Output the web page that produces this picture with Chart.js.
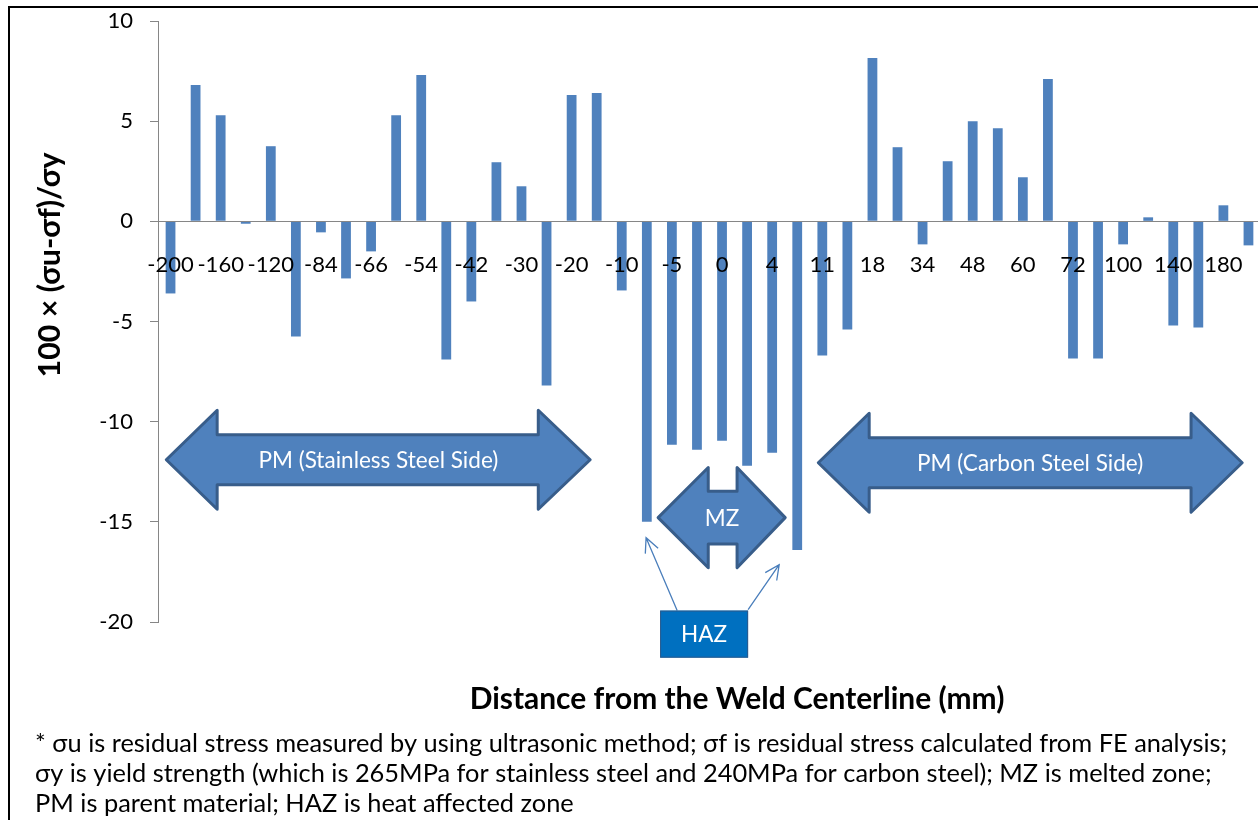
<!DOCTYPE html>
<html><head><meta charset="utf-8">
<script src="https://cdn.jsdelivr.net/npm/chart.js@4.4.1/dist/chart.umd.min.js"></script>
<style>
html,body{margin:0;padding:0;background:#fff;overflow:hidden;}
#wrap{position:relative;width:1258px;height:820px;overflow:hidden;background:#fff;}
canvas{display:block;}
</style></head><body>
<div id="wrap"><canvas id="c" width="1262" height="820"></canvas></div>
<script>
// Distance from the weld centerline (mm); every other label is shown on the axis
const categories = ['-200','-180','-160','-140','-120','-100','-84','-78','-66','-60',
  '-54','-48','-42','-36','-30','-25','-20','-15','-10','-7',
  '-5','-2','0','2','4','7','11','14','18','26',
  '34','42','48','54','60','66','72','84','100','120',
  '140','160','180','200'];
// 100 x (σu-σf)/σy
const stressRatio = [-3.6, 6.8, 5.3, -0.12, 3.75, -5.75, -0.55, -2.85, -1.5, 5.3,
  7.3, -6.9, -4.0, 2.95, 1.75, -8.2, 6.3, 6.4, -3.45, -15.0,
  -11.15, -11.4, -10.95, -12.2, -11.55, -16.4, -6.7, -5.4, 8.15, 3.7,
  -1.15, 3.0, 5.0, 4.65, 2.2, 7.1, -6.85, -6.85, -1.15, 0.2,
  -5.2, -5.3, 0.8, -1.2];
const yTitle = '100 × (σu-σf)/σy';
const xTitle = 'Distance from the Weld Centerline (mm)';
const footnote = [
  '* σu is residual stress measured by using ultrasonic method; σf is residual stress calculated from FE analysis;',
  'σy is yield strength (which is 265MPa for stainless steel and 240MPa for carbon steel); MZ is melted zone;',
  'PM is parent material; HAZ is heat affected zone'
];
// zone arrows in axis units (category index, value)
const zoneArrows = [
  {text: 'PM (Stainless Steel Side)', x: [-0.17, 1.86, 14.67, 16.74], y: -11.9, head: 2.47, shaft: 1.25, tx: 8.29},
  {text: 'PM (Carbon Steel Side)', x: [25.84, 27.87, 40.71, 42.75], y: -12.05, head: 2.47, shaft: 1.25, tx: 34.29},
  {text: 'MZ', x: [19.45, 21.45, 22.6, 24.52], y: -14.79, head: 2.5, shaft: 1.32, tx: 22.0}
];
const hazBox = {text: 'HAZ', x: [19.53, 23.04], y: [-19.43, -21.78]};
const hazPointers = [
  {from: [20.21, -19.43], to: [18.97, -15.79]},
  {from: [23.04, -19.38], to: [24.28, -17.14]}
];

const FONT = 'Lato, "Open Sans", sans-serif';

function fitFont(ctx, text, weight, target, base) {
  ctx.font = weight + ' ' + base + 'px ' + FONT;
  const w = ctx.measureText(text).width;
  return base * target / w;
}

const overlay = {
  id: 'overlay',
  afterDraw(chart) {
    const ctx = chart.ctx;
    const xs = chart.scales.x, ys = chart.scales.y;
    const x0 = xs.getPixelForValue(0);
    const step = xs.getPixelForValue(1) - x0;
    const X = i => x0 + i * step;
    const Y = v => ys.getPixelForValue(v);
    ctx.save();

    // zone double arrows
    const armSize = fitFont(ctx, zoneArrows[0].text, 'normal', 240, 20);
    zoneArrows.forEach(a => {
      const [xl, xbl, xbr, xr] = a.x.map(X);
      const cy = Y(a.y);
      const hh = Y(a.y - a.head) - cy;
      const sh = Y(a.y - a.shaft) - cy;
      ctx.beginPath();
      ctx.moveTo(xl, cy);
      ctx.lineTo(xbl, cy - hh);
      ctx.lineTo(xbl, cy - sh);
      ctx.lineTo(xbr, cy - sh);
      ctx.lineTo(xbr, cy - hh);
      ctx.lineTo(xr, cy);
      ctx.lineTo(xbr, cy + hh);
      ctx.lineTo(xbr, cy + sh);
      ctx.lineTo(xbl, cy + sh);
      ctx.lineTo(xbl, cy + hh);
      ctx.closePath();
      ctx.fillStyle = '#4F81BD';
      ctx.fill();
      ctx.lineJoin = 'round';
      ctx.lineWidth = 3;
      ctx.strokeStyle = '#385D8A';
      ctx.stroke();
      ctx.fillStyle = '#FFFFFF';
      ctx.font = 'normal ' + armSize + 'px ' + FONT;
      ctx.textAlign = 'center';
      ctx.textBaseline = 'middle';
      ctx.fillText(a.text, X(a.tx), cy + 1);
    });

    // HAZ pointers
    ctx.strokeStyle = '#4A7EBB';
    ctx.lineWidth = 1.3;
    ctx.lineJoin = 'miter';
    hazPointers.forEach(p => {
      const fx = X(p.from[0]), fy = Y(p.from[1]);
      const tx = X(p.to[0]), ty = Y(p.to[1]);
      ctx.beginPath();
      ctx.moveTo(fx, fy);
      ctx.lineTo(tx, ty);
      const ang = Math.atan2(ty - fy, tx - fx);
      const L = 16, spread = 0.45;
      ctx.moveTo(tx - L * Math.cos(ang - spread), ty - L * Math.sin(ang - spread));
      ctx.lineTo(tx, ty);
      ctx.lineTo(tx - L * Math.cos(ang + spread), ty - L * Math.sin(ang + spread));
      ctx.stroke();
    });

    // HAZ box
    const bx = X(hazBox.x[0]), bx2 = X(hazBox.x[1]);
    const by = Y(hazBox.y[0]), by2 = Y(hazBox.y[1]);
    ctx.fillStyle = '#0070C0';
    ctx.fillRect(bx, by, bx2 - bx, by2 - by);
    ctx.strokeStyle = '#2C5A8C';
    ctx.lineWidth = 1;
    ctx.strokeRect(bx + 0.5, by + 0.5, bx2 - bx - 1, by2 - by - 1);
    ctx.fillStyle = '#FFFFFF';
    ctx.font = 'normal ' + armSize + 'px ' + FONT;
    ctx.textAlign = 'center';
    ctx.textBaseline = 'middle';
    ctx.fillText(hazBox.text, (bx + bx2) / 2, (by + by2) / 2 + 1);

    // axis titles
    ctx.fillStyle = '#000';
    const ySize = fitFont(ctx, yTitle, 'bold', 225, 22);
    ctx.save();
    ctx.translate(50, 265);
    ctx.rotate(-Math.PI / 2);
    ctx.font = 'bold ' + ySize + 'px ' + FONT;
    ctx.textAlign = 'center';
    ctx.textBaseline = 'middle';
    ctx.fillText(yTitle, 0, 0);
    ctx.restore();

    const xSize = fitFont(ctx, xTitle, 'bold', 535, 24);
    ctx.font = 'bold ' + xSize + 'px ' + FONT;
    ctx.textAlign = 'center';
    ctx.textBaseline = 'middle';
    ctx.fillText(xTitle, 737, 699);

    // footnote
    const fSize = fitFont(ctx, footnote[0], 'normal', 1193, 20);
    ctx.font = 'normal ' + fSize + 'px ' + FONT;
    ctx.textAlign = 'left';
    footnote.forEach((line, i) => ctx.fillText(line, 35, 744 + i * 30));

    // outer frame
    ctx.strokeStyle = '#000';
    ctx.lineWidth = 2;
    ctx.beginPath();
    ctx.moveTo(9, 830);
    ctx.lineTo(9, 7);
    ctx.lineTo(1270, 7);
    ctx.stroke();
    ctx.restore();
  }
};

new Chart(document.getElementById('c'), {
  type: 'bar',
  data: {
    labels: categories,
    datasets: [{
      data: stressRatio,
      backgroundColor: '#4F81BD',
      borderWidth: 0,
      barPercentage: 0.39,
      categoryPercentage: 1.0
    }]
  },
  options: {
    responsive: false,
    devicePixelRatio: 1,
    animation: false,
    events: [],
    layout: {padding: {left: 0, top: 21, right: 1, bottom: 198}},
    plugins: {legend: {display: false}, tooltip: {enabled: false}, title: {display: false}},
    scales: {
      x: {
        type: 'category',
        position: {y: 0},
        offset: true,
        grid: {display: true, drawOnChartArea: false, drawTicks: false},
        border: {display: true, color: '#868686', width: 1, z: 1},
        ticks: {
          z: 2,
          autoSkip: false, maxRotation: 0, minRotation: 0, padding: 30,
          color: '#000', font: {family: FONT, size: 22},
          callback: (v, i) => (i % 2 === 0 ? categories[i] : '')
        },
        afterFit: s => { s.paddingLeft = 0; s.paddingRight = 0; }
      },
      y: {
        min: -20, max: 10,
        ticks: {stepSize: 5, padding: 17, color: '#000', font: {family: FONT, size: 22}},
        grid: {drawOnChartArea: false, drawTicks: true, tickLength: 8, color: '#868686'},
        border: {display: true, color: '#868686', width: 1},
        afterFit: s => { s.width = 158; s.paddingTop = 0; s.paddingBottom = 0; }
      }
    }
  },
  plugins: [overlay]
});
</script>
</body></html>
